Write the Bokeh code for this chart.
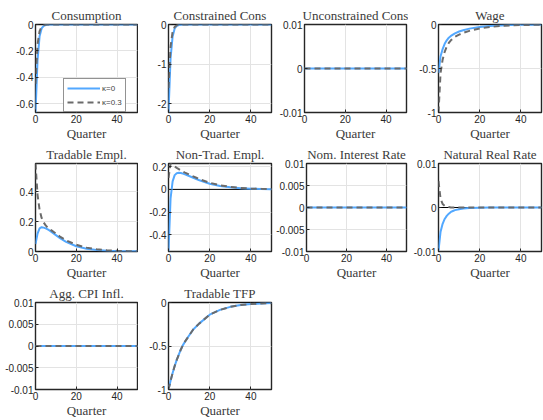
from bokeh.plotting import figure
from bokeh.layouts import column, row
from bokeh.models import Range1d, FixedTicker, Span, Legend, LegendItem
from bokeh.embed import file_html
from bokeh.resources import INLINE

# ---------------- data ----------------
QUARTERS = [0, 1, 2, 3, 4, 5, 6, 7, 8, 10, 12, 15, 20, 25, 30, 35, 40, 45, 50]
X_TICKS = [0, 20, 40]
X_LABELS = ["0", "20", "40"]
SERIES_NAMES = ["\u03ba=0", "\u03ba=0.3"]

TITLES = ["Consumption", "Constrained Cons", "Unconstrained Cons", "Wage",
          "Tradable Empl.", "Non-Trad. Empl.", "Nom. Interest Rate", "Natural Real Rate",
          "Agg. CPI Infl.", "Tradable TFP"]

ZEROS = [0] * 19

CONS_K0 = [-0.667, -0.27, -0.09, -0.03, -0.01, -0.004, -0.0015, -0.0005, 0, 0, 0, 0, 0, 0, 0, 0, 0, 0, 0]
CONS_K3 = [-0.45, -0.15, -0.05, -0.016, -0.005, -0.002, -0.0006, 0, 0, 0, 0, 0, 0, 0, 0, 0, 0, 0, 0]

CCONS_K0 = [-2.22, -0.85, -0.3, -0.1, -0.035, -0.012, -0.004, -0.0015, 0, 0, 0, 0, 0, 0, 0, 0, 0, 0, 0]
CCONS_K3 = [-1.6, -0.55, -0.18, -0.06, -0.02, -0.007, -0.002, 0, 0, 0, 0, 0, 0, 0, 0, 0, 0, 0, 0]

UCONS_K0 = ZEROS
UCONS_K3 = ZEROS

WAGE_K0 = [-0.55, -0.36, -0.28, -0.22, -0.18, -0.15, -0.13, -0.115, -0.10, -0.08, -0.065, -0.047,
           -0.028, -0.017, -0.01, -0.006, -0.004, -0.002, -0.001]
WAGE_K3 = [-1.0, -0.55, -0.40, -0.31, -0.25, -0.21, -0.18, -0.16, -0.14, -0.115, -0.095, -0.072,
           -0.045, -0.028, -0.017, -0.01, -0.006, -0.004, -0.002]

TEMPL_K0 = [0.05, 0.12, 0.155, 0.163, 0.16, 0.155, 0.148, 0.14, 0.13, 0.11, 0.09, 0.065,
            0.035, 0.019, 0.01, 0.005, 0.003, 0.0015, 0.001]
TEMPL_K3 = [0.59, 0.38, 0.28, 0.225, 0.195, 0.175, 0.16, 0.15, 0.14, 0.12, 0.10, 0.075,
            0.045, 0.026, 0.015, 0.008, 0.005, 0.003, 0.0015]

NTEMPL_K0 = [-0.545, -0.08, 0.07, 0.125, 0.142, 0.145, 0.143, 0.138, 0.132, 0.117, 0.102, 0.08,
             0.05, 0.03, 0.018, 0.01, 0.006, 0.003, 0.002]
NTEMPL_K3 = [0.10, 0.227, 0.215, 0.2, 0.188, 0.177, 0.166, 0.156, 0.147, 0.13, 0.114, 0.09,
             0.058, 0.036, 0.022, 0.013, 0.008, 0.005, 0.003]

NOMR_K0 = ZEROS
NOMR_K3 = ZEROS

NATR_K0 = [-0.0098, -0.0055, -0.0037, -0.0026, -0.0019, -0.0014, -0.001, -0.0008, -0.0006, -0.0004,
           -0.00025, -0.00012, -0.00004, -0.00001, 0, 0, 0, 0, 0]
NATR_K3 = [0.006, 0.002, 0.0008, 0.0004, 0.0002, 0.0001, 0, 0, 0, 0, 0, 0, 0, 0, 0, 0, 0, 0, 0]

CPI_K0 = ZEROS
CPI_K3 = ZEROS

TFP_K0 = [-1.0, -0.90, -0.81, -0.73, -0.66, -0.60, -0.54, -0.49, -0.45, -0.38, -0.31, -0.24,
          -0.14, -0.085, -0.05, -0.03, -0.018, -0.011, -0.007]
TFP_K3 = TFP_K0

Y_RANGES = [(-0.667, 0), (-2.22, 0), (-0.01, 0.01), (-1, 0),
            (0, 0.59), (-0.545, 0.227), (-0.01, 0.01), (-0.01, 0.01),
            (-0.01, 0.01), (-1, 0)]
Y_TICKS = [[-0.6, -0.4, -0.2, 0], [-2, -1, 0], [-0.01, 0, 0.01], [-1, -0.5, 0],
           [0, 0.2, 0.4], [-0.4, -0.2, 0, 0.2], [-0.01, -0.005, 0, 0.005, 0.01], [-0.01, 0, 0.01],
           [-0.01, -0.005, 0, 0.005, 0.01], [-1, -0.5, 0]]
Y_LABELS = [["-0.6", "-0.4", "-0.2", "0"], ["-2", "-1", "0"], ["-0.01", "0", "0.01"], ["-1", "-0.5", "0"],
            ["0", "0.2", "0.4"], ["-0.4", "-0.2", "0", "0.2"],
            ["-0.01", "-0.005", "0", "0.005", "0.01"], ["-0.01", "0", "0.01"],
            ["-0.01", "-0.005", "0", "0.005", "0.01"], ["-1", "-0.5", "0"]]

SERIES = [(CONS_K0, CONS_K3), (CCONS_K0, CCONS_K3), (UCONS_K0, UCONS_K3), (WAGE_K0, WAGE_K3),
          (TEMPL_K0, TEMPL_K3), (NTEMPL_K0, NTEMPL_K3), (NOMR_K0, NOMR_K3), (NATR_K0, NATR_K3),
          (CPI_K0, CPI_K3), (TFP_K0, TFP_K3)]

# ---------------- style / layout ----------------
BLUE = "#52a8ff"
GRAY = "#6b6b6b"
AX = "#262626"
SERIF = "Liberation Serif"
SANS = "Liberation Sans"
TEXT_C = "#3a3a3a"

COL_W = [138, 135, 135, 135]
COL_L = [35, 30, 31, 30]
COL_R = [1, 2, 2, 2]
ROW_H = [143, 139, 138]
ROW_T = [24, 20, 18]
ROW_B = [30, 30, 29]


def make_panel(i):
    r, c = divmod(i, 4)
    p = figure(width=COL_W[c], height=ROW_H[r],
               x_range=Range1d(0, 50), y_range=Range1d(*Y_RANGES[i]),
               output_backend="svg", toolbar_location=None,
               min_border_left=COL_L[c], min_border_right=COL_R[c],
               min_border_top=ROW_T[r], min_border_bottom=ROW_B[r])
    p.title.text = TITLES[i]
    p.title.align = "center"
    p.title.text_font = SERIF
    p.title.text_font_size = "13px"
    p.title.text_font_style = "normal"
    p.title.text_color = TEXT_C
    p.title.standoff = 3
    p.outline_line_color = AX
    p.outline_line_width = 1.4
    p.background_fill_color = "white"
    p.border_fill_color = "white"

    p.xaxis.ticker = FixedTicker(ticks=X_TICKS)
    p.xaxis.major_label_overrides = dict(zip(X_TICKS, X_LABELS))
    p.yaxis.ticker = FixedTicker(ticks=Y_TICKS[i])
    p.yaxis.major_label_overrides = dict(zip(Y_TICKS[i], Y_LABELS[i]))
    p.xaxis.axis_label = "Quarter"
    p.xaxis.axis_label_text_font = SERIF
    p.xaxis.axis_label_text_font_size = "13px"
    p.xaxis.axis_label_text_font_style = "normal"
    p.xaxis.axis_label_text_color = TEXT_C
    p.xaxis.axis_label_standoff = 0
    for ax in (p.xaxis, p.yaxis):
        ax.axis_line_color = None
        ax.major_tick_in = 3
        ax.major_tick_out = 0
        ax.major_tick_line_color = AX
        ax.minor_tick_line_color = None
        ax.major_label_text_font = SANS
        ax.major_label_text_font_size = "10px"
        ax.major_label_text_color = AX
        ax.major_label_standoff = 2
    p.grid.grid_line_color = "#e3e3e3"
    p.grid.grid_line_width = 1

    p.add_layout(Span(location=0, dimension="width", line_color="black",
                      line_width=1, level="underlay"))
    s0, s1 = SERIES[i]
    r0 = p.line(QUARTERS, s0, line_color=BLUE, line_width=2)
    r1 = p.line(QUARTERS, s1, line_color=GRAY, line_width=2, line_dash="6 4")
    if i == 0:
        leg = Legend(items=[LegendItem(label=SERIES_NAMES[0], renderers=[r0]),
                            LegendItem(label=SERIES_NAMES[1], renderers=[r1])],
                     location=(28, 0))
        leg.label_text_font = SANS
        leg.label_text_font_size = "8px"
        leg.glyph_width = 33
        leg.glyph_height = 12
        leg.label_standoff = 2
        leg.label_height = 12
        leg.padding = 3
        leg.spacing = 2
        leg.margin = 0
        leg.border_line_color = AX
        leg.border_line_width = 1
        leg.background_fill_alpha = 1
        p.add_layout(leg)
    return p


panels = [make_panel(i) for i in range(10)]
layout = column(row(*panels[0:4]), row(*panels[4:8]), row(*panels[8:10]))

open("out.html", "w").write(file_html(layout, INLINE))
